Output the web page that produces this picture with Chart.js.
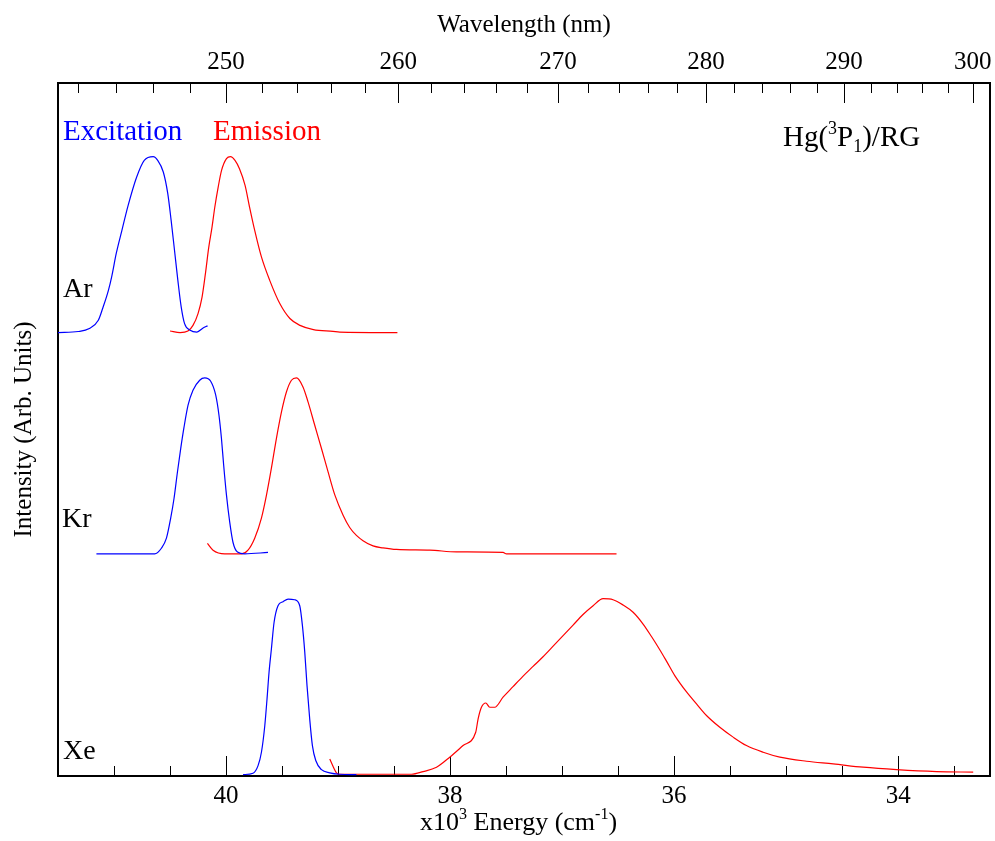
<!DOCTYPE html>
<html><head><meta charset="utf-8">
<script src="https://cdn.jsdelivr.net/npm/chart.js@4"></script>
<style>html,body{margin:0;padding:0;background:#fff}#wrap{width:995px;height:841px}</style>
</head><body><div id="wrap"><canvas id="c" width="995" height="841"></canvas></div>
<script>
// ---- axis ranges & tick labels ----
const ENERGY_MIN = 33.18, ENERGY_MAX = 41.5;            // x10^3 cm^-1
const ENERGY_TICKS = [40, 38, 36, 34];
const WAVELENGTH_TICKS = [250, 260, 270, 280, 290, 300]; // nm
const INTENSITY_MAX = 3.94;
// vertical offsets of the stacked spectra (arb. units)
const OFFSET_AR = 2.521, OFFSET_KR = 1.263, OFFSET_XE = 0.008;

// ---- Ar ----
const arExcEnergy = [41.50, 41.32, 41.22, 41.14, 41.10, 41.05, 41.02, 40.98, 40.93, 40.875, 40.80, 40.73, 40.65, 40.61, 40.56, 40.52, 40.49, 40.46, 40.43, 40.40, 40.37, 40.32, 40.26, 40.205, 40.165];
const arExcIntensity = [0, 0.006, 0.023, 0.070, 0.140, 0.240, 0.320, 0.450, 0.580, 0.720, 0.880, 0.979, 1.0, 0.979, 0.913, 0.790, 0.638, 0.468, 0.297, 0.145, 0.051, 0.013, 0.003, 0.026, 0.038];
const arEmEnergy = [40.50, 40.41, 40.34, 40.295, 40.25, 40.214, 40.184, 40.154, 40.125, 40.10, 40.07, 40.04, 39.996, 39.96, 39.92, 39.88, 39.83, 39.79, 39.744, 39.684, 39.61, 39.52, 39.43, 39.34, 39.22, 39.045, 38.985, 38.47];
const arEmIntensity = [0.009, 0, 0.009, 0.041, 0.108, 0.202, 0.335, 0.486, 0.600, 0.714, 0.827, 0.922, 0.989, 1.0, 0.979, 0.932, 0.837, 0.714, 0.581, 0.430, 0.297, 0.165, 0.080, 0.041, 0.017, 0.007, 0.003, 0];

// ---- Kr ----
const krExcEnergy = [41.157, 40.637, 40.577, 40.532, 40.494, 40.464, 40.434, 40.404, 40.375, 40.339, 40.295, 40.235, 40.19, 40.137, 40.092, 40.063, 40.041, 40.021, 39.996, 39.967, 39.938, 39.898, 39.833, 39.625];
const krExcIntensity = [0, 0, 0.032, 0.089, 0.203, 0.316, 0.464, 0.601, 0.720, 0.845, 0.930, 0.987, 1.0, 0.981, 0.902, 0.788, 0.657, 0.504, 0.334, 0.180, 0.066, 0.010, 0, 0.008];
const krEmEnergy = [40.166, 40.116, 40.012, 39.863, 39.804, 39.744, 39.684, 39.639, 39.595, 39.55, 39.505, 39.461, 39.416, 39.371, 39.313, 39.268, 39.208, 39.148, 39.089, 39.029, 38.955, 38.896, 38.836, 38.777, 38.688, 38.598, 38.479, 38.181, 37.943, 37.527, 37.496, 36.514];
const krEmIntensity = [0.059, 0.021, 0, 0, 0.021, 0.089, 0.203, 0.334, 0.487, 0.657, 0.807, 0.920, 0.987, 1.0, 0.949, 0.864, 0.731, 0.599, 0.466, 0.335, 0.220, 0.150, 0.105, 0.075, 0.045, 0.034, 0.025, 0.021, 0.011, 0.008, 0, 0];

// ---- Xe ----
const xeExcEnergy = [39.848, 39.759, 39.714, 39.684, 39.654, 39.634, 39.616, 39.595, 39.571, 39.536, 39.491, 39.446, 39.387, 39.342, 39.318, 39.297, 39.277, 39.253, 39.229, 39.199, 39.148, 39.074, 38.985, 38.836];
const xeExcIntensity = [0, 0.008, 0.051, 0.127, 0.278, 0.430, 0.582, 0.714, 0.866, 0.960, 0.983, 0.998, 0.994, 0.960, 0.847, 0.695, 0.506, 0.316, 0.165, 0.080, 0.028, 0.010, 0.002, 0];
const xeEmEnergy = [39.074, 39.014, 38.985, 38.345, 38.241, 38.121, 38.003, 37.884, 37.771, 37.750, 37.720, 37.681, 37.646, 37.601, 37.527, 37.438, 37.348, 37.259, 37.170, 37.080, 36.991, 36.902, 36.813, 36.723, 36.634, 36.545, 36.455, 36.366, 36.277, 36.202, 36.128, 36.068, 35.994, 35.889, 35.800, 35.711, 35.592, 35.473, 35.354, 35.205, 35.056, 34.818, 34.580, 34.313, 34.014, 33.657, 33.330];
const xeEmIntensity = [0.089, 0.010, 0.002, 0.002, 0.017, 0.042, 0.099, 0.165, 0.241, 0.316, 0.383, 0.407, 0.383, 0.383, 0.440, 0.500, 0.560, 0.615, 0.670, 0.730, 0.790, 0.850, 0.910, 0.960, 1.0, 0.994, 0.964, 0.923, 0.856, 0.785, 0.710, 0.645, 0.563, 0.470, 0.402, 0.336, 0.269, 0.213, 0.165, 0.127, 0.099, 0.076, 0.061, 0.042, 0.028, 0.017, 0.014];

const BLUE = '#0000ff', RED = '#ff0000';
const SERIF = '"Liberation Serif", "Times New Roman", serif';

function series(label, energy, intensity, offset, color) {
  return {
    label, borderColor: color, borderWidth: 1.2, pointRadius: 0, fill: false,
    cubicInterpolationMode: 'monotone',
    data: energy.map((e, i) => ({ x: e, y: intensity[i] + offset }))
  };
}

function drawRich(ctx, x, y, parts, size, color) {
  let cx = x;
  ctx.fillStyle = color;
  ctx.textBaseline = 'alphabetic';
  ctx.textAlign = 'left';
  for (const p of parts) {
    const s = (p.sup || p.sub) ? size * 0.62 : size;
    ctx.font = s + 'px ' + SERIF;
    const dy = p.sup ? -size * 0.42 : (p.sub ? size * 0.2 : 0);
    ctx.fillText(p.t, cx, y + dy);
    cx += ctx.measureText(p.t).width;
  }
}

const decor = {
  id: 'decor',
  beforeDatasetsDraw(chart) {
    const ctx = chart.ctx, a = chart.chartArea;
    const xs = chart.scales.x;
    ctx.save();
    ctx.strokeStyle = '#000';
    ctx.lineWidth = 1;
    const vline = (px, y0, y1) => { ctx.beginPath(); ctx.moveTo(px, y0); ctx.lineTo(px, y1); ctx.stroke(); };
    // bottom energy ticks (inward): major every 2, minor every 0.5
    for (let k = Math.ceil(ENERGY_MIN * 2) / 2; k <= ENERGY_MAX; k += 0.5) {
      const px = Math.round(xs.getPixelForValue(k)) + 0.5;
      vline(px, a.bottom, a.bottom - (ENERGY_TICKS.includes(k) ? 20 : 10));
    }
    // top wavelength ticks (inward): major every 10 nm, minor every 2 nm
    for (let w = 240; w <= 310; w += 2) {
      const e = 1e4 / w;
      if (e < ENERGY_MIN || e > ENERGY_MAX) continue;
      const px = Math.round(xs.getPixelForValue(e)) + 0.5;
      vline(px, a.top, a.top + (WAVELENGTH_TICKS.includes(w) ? 20 : 10));
    }
    // frame
    ctx.lineWidth = 2;
    ctx.strokeRect(a.left, a.top, a.right - a.left, a.bottom - a.top);
    ctx.restore();
  },
  afterDraw(chart) {
    const ctx = chart.ctx;
    ctx.save();
    drawRich(ctx, 63, 140, [{ t: 'Excitation' }], 29, BLUE);
    drawRich(ctx, 213, 140, [{ t: 'Emission' }], 29, RED);
    drawRich(ctx, 783, 146, [{ t: 'Hg(' }, { t: '3', sup: true }, { t: 'P' }, { t: '1', sub: true }, { t: ')/RG' }], 29, '#000');
    drawRich(ctx, 63, 297, [{ t: 'Ar' }], 28, '#000');
    drawRich(ctx, 62, 527, [{ t: 'Kr' }], 28, '#000');
    drawRich(ctx, 63, 759, [{ t: 'Xe' }], 28, '#000');
    // bottom axis title
    drawRich(ctx, 420, 830, [{ t: 'x10' }, { t: '3', sup: true }, { t: ' Energy (cm' }, { t: '-1', sup: true }, { t: ')' }], 26, '#000');
    ctx.restore();
  }
};

const tickFont = { family: SERIF, size: 25 };

new Chart(document.getElementById('c'), {
  type: 'line',
  data: {
    datasets: [
      series('Ar excitation', arExcEnergy, arExcIntensity, OFFSET_AR, BLUE),
      series('Ar emission', arEmEnergy, arEmIntensity, OFFSET_AR, RED),
      series('Kr excitation', krExcEnergy, krExcIntensity, OFFSET_KR, BLUE),
      series('Kr emission', krEmEnergy, krEmIntensity, OFFSET_KR, RED),
      series('Xe excitation', xeExcEnergy, xeExcIntensity, OFFSET_XE, BLUE),
      series('Xe emission', xeEmEnergy, xeEmIntensity, OFFSET_XE, RED)
    ]
  },
  options: {
    responsive: false,
    animation: false,
    devicePixelRatio: 1,
    layout: { padding: { left: 0, right: 5, top: 0, bottom: 0 } },
    plugins: { legend: { display: false }, tooltip: { enabled: false } },
    scales: {
      x: {
        type: 'linear', position: 'bottom', reverse: true,
        min: ENERGY_MIN, max: ENERGY_MAX,
        grid: { display: false, drawTicks: false },
        border: { display: false },
        ticks: { font: tickFont, color: '#000', padding: 5, autoSkip: false, maxRotation: 0 },
        afterBuildTicks: (s) => { s.ticks = ENERGY_TICKS.map(v => ({ value: v })); },
        afterFit: (s) => { s.height = 65; s.paddingLeft = 0; s.paddingRight = 0; }
      },
      x2: {
        type: 'linear', position: 'top', reverse: true,
        min: ENERGY_MIN, max: ENERGY_MAX,
        grid: { display: false, drawTicks: false },
        border: { display: false },
        ticks: {
          font: tickFont, color: '#000', padding: 6, autoSkip: false, maxRotation: 0,
          callback: (v) => String(Math.round(1e4 / v))
        },
        afterBuildTicks: (s) => { s.ticks = WAVELENGTH_TICKS.map(w => ({ value: 1e4 / w })); },
        title: { display: true, text: 'Wavelength (nm)', font: { family: SERIF, size: 25 }, color: '#000', padding: { top: 10, bottom: 0 } },
        afterFit: (s) => { s.height = 83; s.paddingLeft = 0; s.paddingRight = 0; }
      },
      y: {
        type: 'linear', position: 'left', min: 0, max: INTENSITY_MAX,
        grid: { display: false, drawTicks: false },
        border: { display: false },
        ticks: { display: false },
        title: { display: true, text: 'Intensity (Arb. Units)', font: { family: SERIF, size: 25 }, color: '#000', padding: { top: 9, bottom: 0 } },
        afterFit: (s) => { s.width = 58; }
      }
    }
  },
  plugins: [decor]
});
</script>
</body></html>
